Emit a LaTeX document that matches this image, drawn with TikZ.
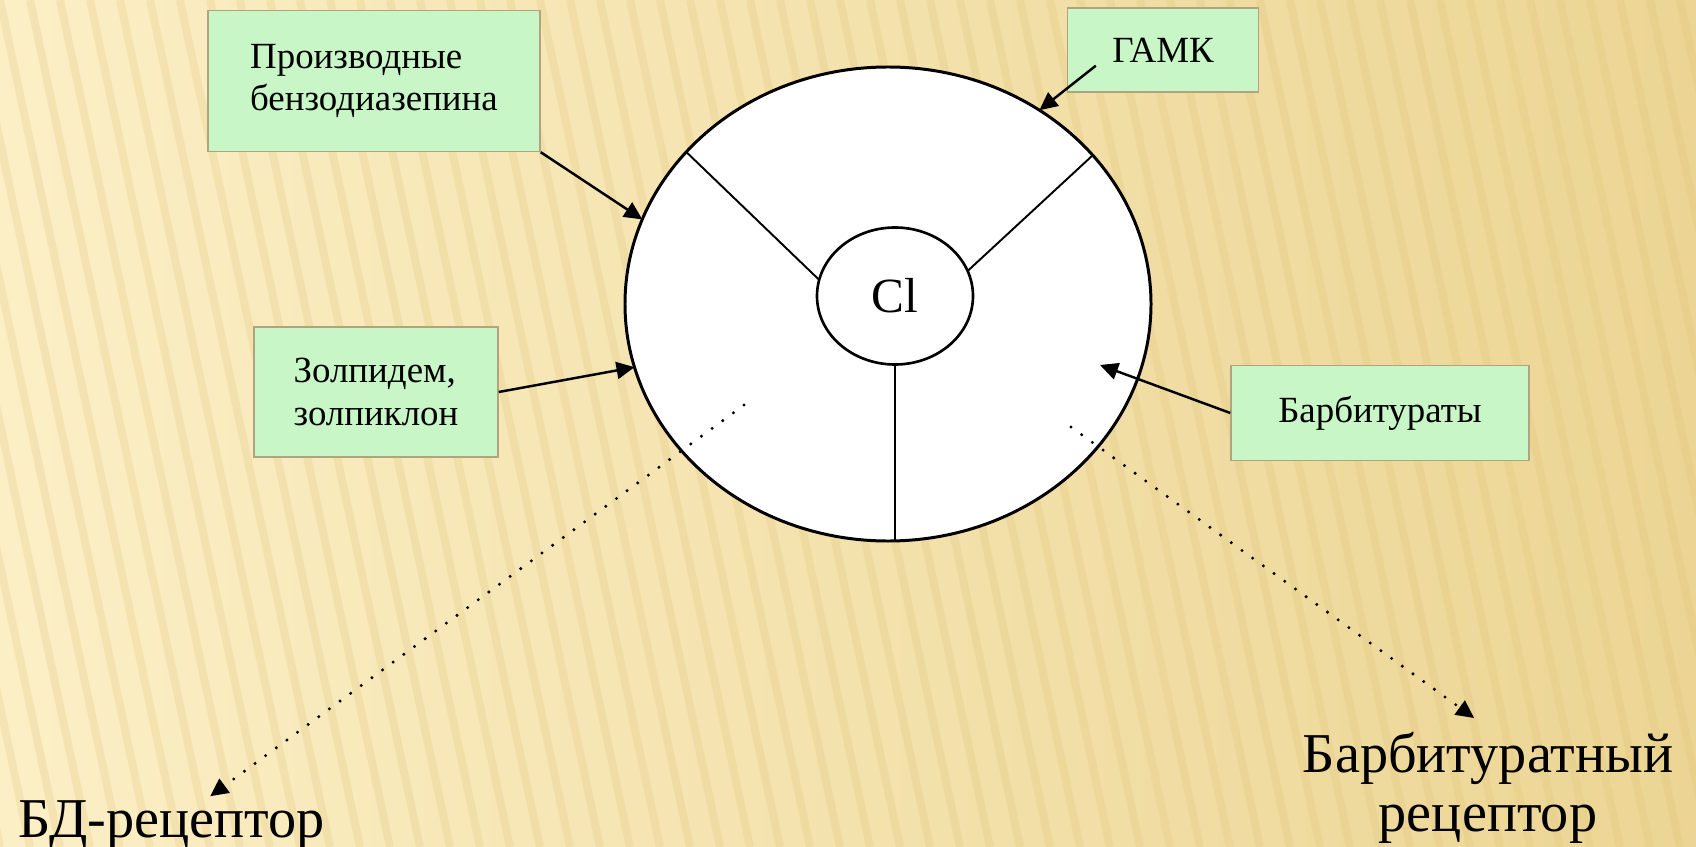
\documentclass[tikz,border=0pt]{standalone}
\usepackage{fontspec}
\setmainfont{Liberation Serif}
\usetikzlibrary{arrows.meta,calc,positioning,shapes.geometric}

\definecolor{paper}{RGB}{252,239,198}
\definecolor{paperdark}{RGB}{236,213,148}
\definecolor{stripe}{RGB}{220,192,112}
\definecolor{labelgreen}{RGB}{200,246,198}
\definecolor{labelrim}{RGB}{176,164,128}

\begin{document}
\begin{tikzpicture}[x=0.2mm, y=-0.2mm, >={Triangle[length=3.6mm, width=3.4mm]},
  drug/.style={draw=labelrim, line width=0.8pt, fill=labelgreen, font=\fontsize{21}{24}\selectfont, align=left},
  hit/.style={->, line width=1.4pt},
  route/.style={->, line width=1.9pt, line cap=round, dash pattern=on 0pt off 7.5pt},
  receptor/.style={font=\fontsize{32}{34}\selectfont, align=center, inner sep=2pt}]
  \useasboundingbox (0,0) rectangle (1696,847);

  % Background
  \begin{scope}
    \clip (0,0) rectangle (1696,847);
    \shade[left color=paper, right color=paperdark] (0,0) rectangle (1696,847);
    \foreach \s in {-300,-270,...,1700}
      \draw[stripe, line width=1.6mm, opacity=.22] (\s,0) -- (\s+180,847);
  \end{scope}

  % Channel
  \node[ellipse, draw, line width=1.7pt, fill=white, minimum width=105.2mm, minimum height=94.8mm, inner sep=0pt, outer sep=0pt] (ring) at (888,304) {};
  \node[ellipse, draw, line width=1.5pt, fill=white, minimum width=31.2mm, minimum height=27.4mm, inner sep=0pt, outer sep=0pt, font=\fontsize{28}{28}\selectfont] (core) at (895,296) {Cl};
  \draw[line width=1.1pt] (ring.143) -- (core.168);
  \draw[line width=1.1pt] (ring.36) -- (core.19);
  \draw[line width=1.1pt] (core.south) -- (core.south |- ring.south);

  % Drug labels
  \node[drug, minimum width=66.4mm, minimum height=28.2mm] (bzd) at (374,81) {Производные\\бензодиазепина};
  \node[drug, minimum width=38.2mm, minimum height=16.8mm] (gamk) at (1163,50) {ГАМК};
  \node[drug, minimum width=48.8mm, minimum height=26mm] (zolp) at (376,392) {Золпидем,\\золпиклон};
  \node[drug, minimum width=59.6mm, minimum height=19mm] (barb) at (1380,413) {Барбитураты};

  % Binding arrows
  \coordinate (barbtip) at (1100,365);
  \draw[hit] (bzd.south east) -- (ring.161);
  \draw[hit] ($(gamk.south west)+(29,-27)$) -- (ring.52);
  \draw[hit] (zolp.east) -- (ring.194);
  \draw[hit] (barb.west) -- (barbtip);

  % Receptors
  \node[receptor, anchor=base west] (bdrec) at (15,837) {БД-рецептор};
  \node[receptor, anchor=north] (barbrec) at (1488,728) {Барбитуратный\\рецептор};
  \coordinate (bdfrom) at (744,405);
  \coordinate (barbfrom) at (1071,427);
  \draw[route] (bdfrom) -- (bdrec);
  \draw[route, shorten >=3.4mm] (barbfrom) -- (barbrec.north);
\end{tikzpicture}
\end{document}
